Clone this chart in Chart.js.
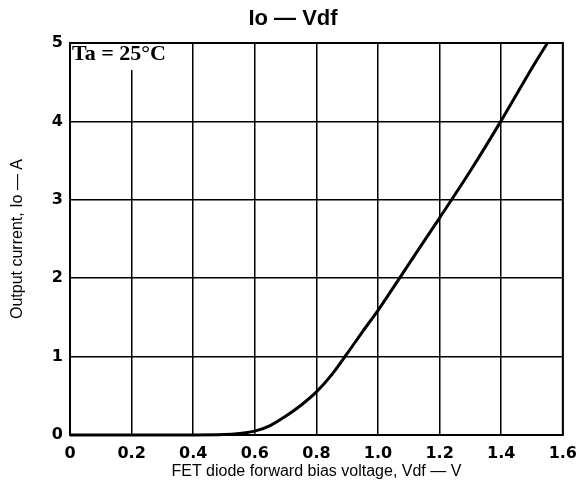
<!DOCTYPE html>
<html>
<head>
<meta charset="utf-8">
<title>Io — Vdf</title>
<script src="https://cdn.jsdelivr.net/npm/chart.js@4"></script>
<style>
    html, body { margin: 0; padding: 0; background: #fff; }
    #wrap { width: 586px; height: 484px; }
</style>
</head>
<body>
<div id="wrap"><canvas id="ioChart"></canvas></div>
<script>
// Curve (Ta = 25°C)
const vdf = [0, 0.1, 0.2, 0.3, 0.4, 0.5, 0.55, 0.6, 0.65, 0.7, 0.75, 0.8, 0.85, 0.9, 0.95, 1.0, 1.1, 1.2, 1.3, 1.4, 1.5, 1.55];
const io = [0, 0, 0, 0, 0, 0.005, 0.02, 0.05, 0.12, 0.24, 0.38, 0.55, 0.77, 1.04, 1.32, 1.59, 2.18, 2.77, 3.37, 4.01, 4.68, 5.0];

const xTickLabels = ['0', '0.2', '0.4', '0.6', '0.8', '1.0', '1.2', '1.4', '1.6'];
const yTickLabels = ['0', '1', '2', '3', '4', '5'];

const tickFont = { family: '"DejaVu Sans", sans-serif', size: 16, weight: 'bold' };
const labelFont = { family: '"Liberation Sans", Arial, sans-serif', size: 16 };

/**
 * Frame around the plot plus the Ta note in the top-left corner
 */
const framePlugin = {
    id: 'frame',
    beforeDatasetsDraw(chart) {
        const { ctx, chartArea: a } = chart;
        ctx.save();
        ctx.fillStyle = '#fff';
        ctx.fillRect(a.left + 1, a.top + 1, 102, 26);
        ctx.fillStyle = '#000';
        ctx.font = 'bold 22px "Liberation Serif", "DejaVu Serif", serif';
        ctx.textBaseline = 'alphabetic';
        ctx.fillText('Ta = 25°C', a.left + 2, a.top + 17);
        ctx.restore();
    },
    afterDatasetsDraw(chart) {
        const { ctx, chartArea: a } = chart;
        ctx.save();
        ctx.strokeStyle = '#000';
        ctx.lineWidth = 2;
        ctx.strokeRect(a.left, a.top, a.right - a.left, a.bottom - a.top);
        ctx.restore();
    }
};

new Chart(document.getElementById('ioChart'), {
    type: 'line',
    data: {
        datasets: [{
            data: vdf.map((v, i) => ({ x: v, y: io[i] })),
            borderColor: '#000',
            borderWidth: 3,
            pointRadius: 0,
            cubicInterpolationMode: 'monotone',
            fill: false,
            clip: 4
        }]
    },
    options: {
        responsive: true,
        maintainAspectRatio: false,
        animation: false,
        layout: { padding: 0 },
        plugins: {
            legend: { display: false },
            tooltip: { enabled: false },
            title: {
                display: true,
                text: 'Io — Vdf',
                color: '#000',
                font: { family: '"Liberation Sans", Arial, sans-serif', size: 22, weight: 'bold' },
                padding: { top: 6, bottom: 10.6 }
            }
        },
        scales: {
            x: {
                type: 'linear',
                min: 0,
                max: 1.6,
                afterBuildTicks: scale => {
                    scale.ticks = xTickLabels.map(t => ({ value: parseFloat(t) }));
                },
                afterFit: scale => { scale.height = 49; },
                ticks: {
                    color: '#000',
                    font: tickFont,
                    padding: 9,
                    maxRotation: 0,
                    autoSkip: false,
                    callback: (value, index) => xTickLabels[index]
                },
                grid: { color: '#000', lineWidth: 1.5, drawTicks: false },
                border: { display: false },
                title: {
                    display: true,
                    text: 'FET diode forward bias voltage, Vdf — V',
                    color: '#000',
                    font: labelFont,
                    padding: { top: 0, bottom: 2.4 }
                }
            },
            y: {
                type: 'linear',
                min: 0,
                max: 5,
                afterBuildTicks: scale => {
                    scale.ticks = yTickLabels.map(t => ({ value: parseFloat(t) }));
                },
                afterFit: scale => { scale.width = 70; },
                ticks: {
                    color: '#000',
                    font: tickFont,
                    padding: 7,
                    autoSkip: false,
                    callback: (value, index) => yTickLabels[index]
                },
                grid: { color: '#000', lineWidth: 1.5, drawTicks: false },
                border: { display: false },
                title: {
                    display: true,
                    text: 'Output current, Io — A',
                    color: '#000',
                    font: labelFont,
                    padding: { top: 8.4, bottom: 0 }
                }
            },
            // empty axis that only keeps room on the right
            yRight: {
                type: 'linear',
                position: 'right',
                min: 0,
                max: 5,
                afterFit: scale => { scale.width = 23; },
                ticks: { display: false },
                grid: { display: false },
                border: { display: false }
            }
        }
    },
    plugins: [framePlugin]
});
</script>
</body>
</html>
